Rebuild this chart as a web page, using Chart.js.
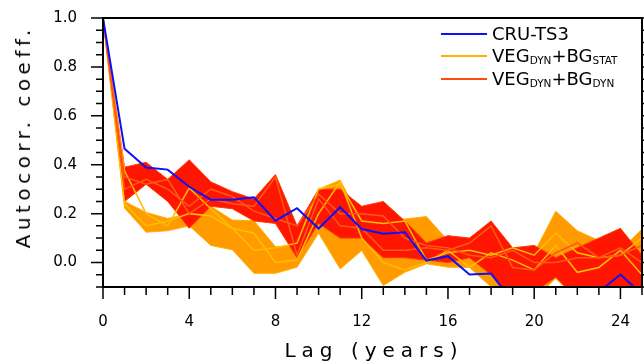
<!DOCTYPE html>
<html>
<head>
<meta charset="utf-8">
<script src="https://cdn.jsdelivr.net/npm/chart.js@4.4.1/dist/chart.umd.min.js"></script>
<style>
  html, body { margin: 0; padding: 0; background: #fff; }
  #wrap { position: relative; width: 644px; height: 363px; font-family: "DejaVu Sans", sans-serif; color: #000; overflow: hidden; }
  #chart { position: absolute; left: 0; top: 0; }
  .xtitle { position: absolute; left: 371px; top: 340px; transform: translateX(-50%); font-size: 20px; line-height: 20px; letter-spacing: 6px; padding-left: 6px; white-space: nowrap; }
  .ytitle { position: absolute; left: 23px; top: 139px; transform: translate(-50%, -50%) rotate(-90deg); font-size: 20px; line-height: 20px; letter-spacing: 4.5px; padding-left: 4.5px; white-space: nowrap; }
  .legend { position: absolute; left: 441px; top: 23px; }
  .row { position: relative; height: 22.3px; }
  .sw { position: absolute; left: 0; top: 10px; width: 46px; height: 2px; }
  .lab { position: absolute; left: 51px; top: 0; font-size: 18px; line-height: 22px; white-space: nowrap; }
  .lab span { font-size: 10.5px; vertical-align: -2px; }
</style>
</head>
<body>
<div id="wrap">
  <canvas id="chart" width="644" height="363"></canvas>
  <div class="ytitle">Autocorr. coeff.</div>
  <div class="xtitle">Lag (years)</div>
  <div class="legend">
    <div class="row"><div class="sw" style="background:#1010f5"></div><div class="lab">CRU-TS3</div></div>
    <div class="row"><div class="sw" style="background:#ffb400"></div><div class="lab">VEG<span>DYN</span>+BG<span>STAT</span></div></div>
    <div class="row"><div class="sw" style="background:#ff4a10"></div><div class="lab">VEG<span>DYN</span>+BG<span>DYN</span></div></div>
  </div>
</div>
<script>
(function () {
    'use strict';

    // lag in years
    const lags = [0, 1, 2, 3, 4, 5, 6, 7, 8, 9, 10, 11, 12, 13, 14, 15, 16, 17, 18, 19, 20, 21, 22, 23, 24, 25];

    // observed autocorrelation
    const cruTs3 = [1.0, 0.465, 0.389, 0.38, 0.31, 0.257, 0.257, 0.267, 0.171, 0.222, 0.139, 0.226, 0.137, 0.118, 0.124, 0.008, 0.026, -0.049, -0.045, -0.16, -0.2, -0.18, -0.2, -0.12, -0.049, -0.13];

    // VEG_DYN+BG_STAT envelope and members
    const statHi = [1.0, 0.25, 0.205, 0.18, 0.2, 0.23, 0.174, 0.171, 0.065, 0.07, 0.3, 0.337, 0.17, 0.12, 0.178, 0.188, 0.09, 0.05, 0.03, 0.052, 0.04, 0.21, 0.13, 0.09, 0.05, 0.137];
    const statLo = [1.0, 0.223, 0.124, 0.13, 0.15, 0.07, 0.052, -0.044, -0.044, -0.019, 0.12, -0.026, 0.049, -0.094, -0.04, -0.005, -0.019, -0.02, -0.1, -0.15, -0.15, -0.065, -0.15, -0.15, -0.15, -0.15];
    const statM1 = [1.0, 0.375, 0.2, 0.15, 0.305, 0.22, 0.14, 0.05, 0.06, 0.08, 0.3, 0.32, 0.17, 0.16, 0.17, 0.01, 0.04, 0.05, 0.03, 0.06, 0.03, 0.12, 0.04, 0.02, 0.03, 0.1];
    const statM2 = [1.0, 0.24, 0.15, 0.17, 0.2, 0.19, 0.14, 0.12, 0.0, 0.01, 0.2, 0.33, 0.1, 0.0, -0.03, 0.0, 0.05, -0.02, 0.04, 0.01, -0.03, 0.07, -0.04, -0.02, 0.05, -0.05];

    // VEG_DYN+BG_DYN envelope and members
    const dynHi = [1.0, 0.39, 0.41, 0.34, 0.42, 0.33, 0.29, 0.26, 0.36, 0.15, 0.3, 0.3, 0.23, 0.25, 0.17, 0.08, 0.11, 0.1, 0.17, 0.06, 0.07, 0.02, 0.06, 0.1, 0.14, 0.03];
    const dynLo = [1.0, 0.25, 0.32, 0.25, 0.14, 0.23, 0.22, 0.17, 0.16, 0.02, 0.16, 0.1, 0.1, 0.02, 0.02, 0.01, 0.0, 0.02, -0.05, -0.15, -0.12, -0.06, -0.15, -0.15, -0.15, -0.15];
    const dynM1 = [1.0, 0.3, 0.34, 0.3, 0.23, 0.3, 0.27, 0.21, 0.18, 0.15, 0.28, 0.2, 0.2, 0.19, 0.1, 0.07, 0.06, 0.03, 0.02, 0.05, 0.0, 0.0, 0.02, 0.02, 0.03, 0.07];
    const dynM2 = [1.0, 0.35, 0.32, 0.34, 0.2, 0.26, 0.24, 0.23, 0.35, 0.03, 0.26, 0.15, 0.14, 0.05, 0.05, 0.06, 0.05, 0.08, 0.15, -0.02, -0.03, 0.04, 0.08, 0.02, 0.06, 0.0];

    const xTicks = [0, 4, 8, 12, 16, 20, 24];
    const yTicks = [0.0, 0.2, 0.4, 0.6, 0.8, 1.0];

    const FONT = '"DejaVu Sans", sans-serif';

    function pts(arr) {
        return lags.map((x, i) => ({ x: x, y: arr[i] }));
    }

    function line(data, color, width, order, extra) {
        return Object.assign({
            data: pts(data),
            borderColor: color,
            borderWidth: width,
            pointRadius: 0,
            fill: false,
            order: order
        }, extra || {});
    }

    function noPad(s) {
        s.paddingLeft = 0;
        s.paddingRight = 0;
        s.paddingTop = 0;
        s.paddingBottom = 0;
    }

    // ticks on the frame, minor every 1 year / 0.05
    const frameTicks = {
        id: 'frameTicks',
        afterDraw(chart) {
            const ctx = chart.ctx;
            const a = chart.chartArea;
            const xs = chart.scales.x;
            const ys = chart.scales.y;
            ctx.save();
            ctx.strokeStyle = '#000';
            ctx.lineWidth = 1.5;
            ctx.beginPath();
            for (let v = 0; v <= 25; v++) {
                const px = xs.getPixelForValue(v);
                const len = v % 4 === 0 ? 12 : 8;
                ctx.moveTo(px, a.bottom);
                ctx.lineTo(px, a.bottom + len);
            }
            for (let k = -2; k <= 20; k++) {
                const v = k * 0.05;
                const py = ys.getPixelForValue(v);
                const len = k % 4 === 0 ? 12 : 7;
                ctx.moveTo(a.left, py);
                ctx.lineTo(a.left - len, py);
                ctx.moveTo(a.right, py);
                ctx.lineTo(a.right + len, py);
            }
            ctx.stroke();
            ctx.lineWidth = 2;
            ctx.strokeRect(a.left, a.top, a.right - a.left, a.bottom - a.top);
            ctx.restore();
        }
    };

    new Chart(document.getElementById('chart').getContext('2d'), {
        type: 'line',
        data: {
            datasets: [
                line(statHi, '#ffb200', 1, 10),
                line(statLo, '#ffb200', 1, 10, { fill: 0, backgroundColor: '#ff9a00' }),
                line(dynHi, '#ff3c00', 1, 8),
                line(dynLo, '#ff3c00', 1, 8, { fill: 2, backgroundColor: '#ff1500' }),
                line(statM1, '#ffbe00', 1.5, 5),
                line(statM2, '#ffbe00', 1.5, 5),
                line(dynM1, '#ff5a14', 1.5, 4),
                line(dynM2, '#ff5a14', 1.5, 4),
                line(cruTs3, '#1010f5', 2, 1)
            ]
        },
        options: {
            responsive: false,
            animation: false,
            layout: { padding: { top: 18, right: 2, left: 0, bottom: 0 } },
            elements: { line: { tension: 0 } },
            plugins: {
                legend: { display: false },
                tooltip: { enabled: false }
            },
            scales: {
                x: {
                    type: 'linear',
                    min: 0,
                    max: 25,
                    grid: { display: false, drawTicks: false },
                    border: { display: false },
                    afterBuildTicks: s => { s.ticks = xTicks.map(v => ({ value: v })); },
                    afterFit: s => { s.height = 76; noPad(s); },
                    ticks: {
                        padding: 26,
                        color: '#000',
                        font: { family: FONT, size: 15 },
                        maxRotation: 0,
                        callback: v => String(v)
                    }
                },
                y: {
                    min: -0.1,
                    max: 1.0,
                    grid: { display: false, drawTicks: false },
                    border: { display: false },
                    afterBuildTicks: s => { s.ticks = yTicks.map(v => ({ value: v })); },
                    afterFit: s => { s.width = 103; noPad(s); },
                    ticks: {
                        padding: 26,
                        color: '#000',
                        font: { family: FONT, size: 15 },
                        callback: v => Number(v).toFixed(1)
                    }
                }
            }
        },
        plugins: [frameTicks]
    });
})();
</script>
</body>
</html>
